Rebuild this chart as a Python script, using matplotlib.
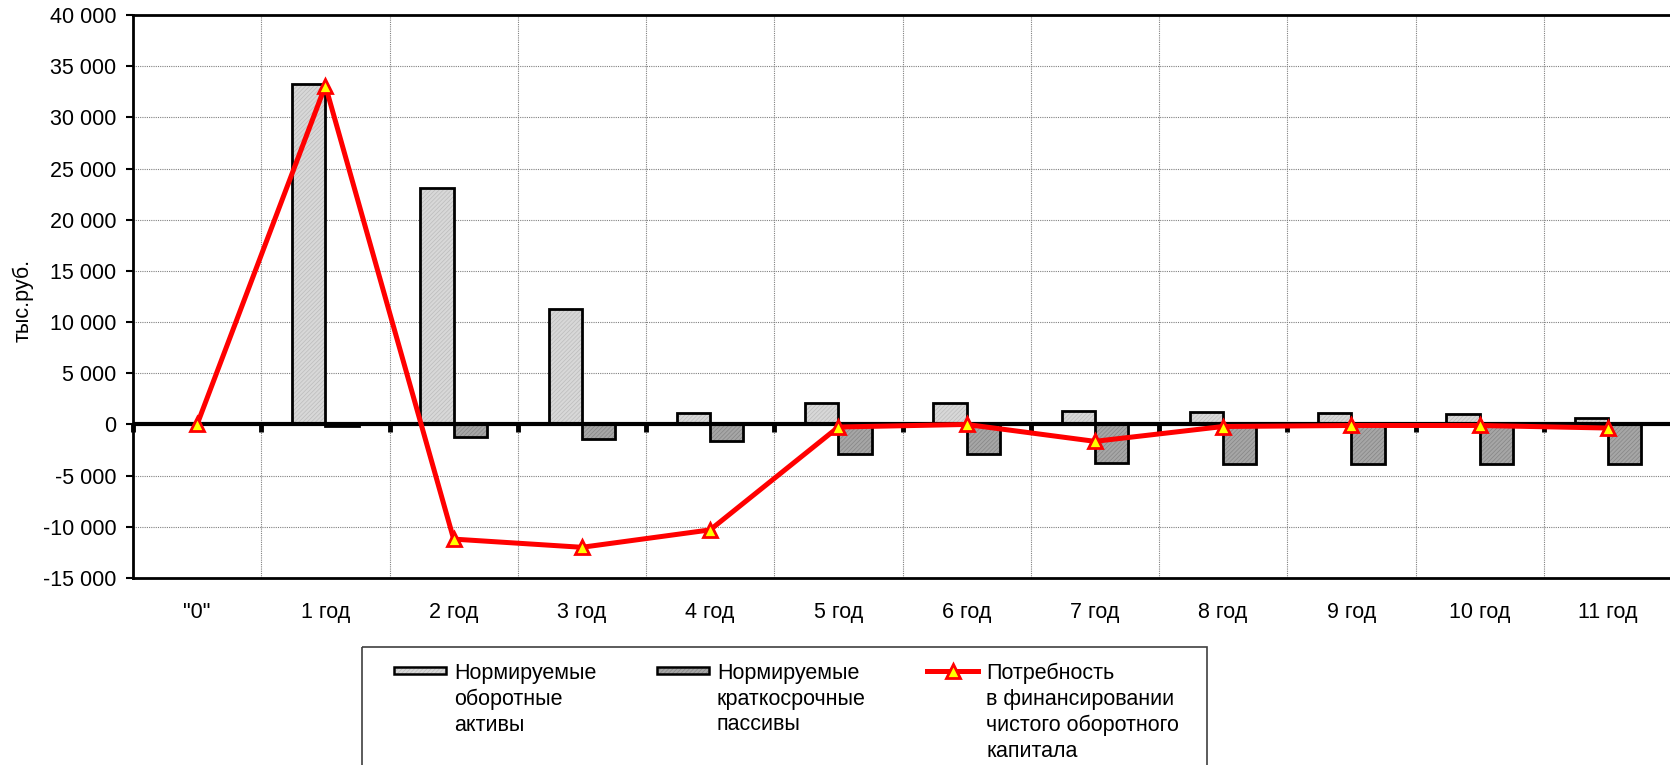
import matplotlib
matplotlib.use("Agg")
import matplotlib.pyplot as plt
import matplotlib.markers as mmarkers
from matplotlib.patches import Rectangle
from matplotlib.lines import Line2D
import numpy as np

plt.rcParams['font.family'] = ['Liberation Sans', 'DejaVu Sans']
plt.rcParams['hatch.linewidth'] = 0.5

# Data (тыс. руб.)
periods = ['"0"', '1 год', '2 год', '3 год', '4 год', '5 год', '6 год',
           '7 год', '8 год', '9 год', '10 год', '11 год']
current_assets = [0, 33300, 23100, 11300, 1150, 2100, 2100, 1350, 1250, 1150, 1050, 600]
current_liabilities = [0, -150, -1200, -1400, -1650, -2900, -2900, -3800, -3900, -3900, -3900, -3850]
financing_need = [0, 33100, -11200, -12000, -10300, -250, 0, -1650, -200, -100, -100, -350]
y_ticks = list(range(-15000, 40001, 5000))

legend_labels = ['Нормируемые\nоборотные\nактивы',
                 'Нормируемые\nкраткосрочные\nпассивы',
                 'Потребность\nв финансировании\nчистого оборотного\nкапитала']

W, H = 1670, 765
FS = 15.5
fig = plt.figure(figsize=(W / 100, H / 100), dpi=100)
left, right, top, bottom = 133, 1672, 15, 578
ax = fig.add_axes([left / W, (H - bottom) / H, (right - left) / W, (bottom - top) / H])

x = np.arange(len(periods))
bw = 0.26
light_fc, light_hc = '#d8d8d8', '#bcbcbc'
dark_fc, dark_hc = '#a6a6a6', '#858585'
HATCH = '////////'

# hatched fills, then outlines
ax.bar(x - bw / 2, current_assets, bw, color=light_fc, edgecolor=light_hc,
       hatch=HATCH, linewidth=0, zorder=2)
ax.bar(x + bw / 2, current_liabilities, bw, color=dark_fc, edgecolor=dark_hc,
       hatch=HATCH, linewidth=0, zorder=2)
ax.bar(x - bw / 2, current_assets, bw, fill=False, edgecolor='black', linewidth=2, zorder=3)
ax.bar(x + bw / 2, current_liabilities, bw, fill=False, edgecolor='black', linewidth=2, zorder=3)

# category axis at zero with tick marks between categories
bounds = np.arange(0.5, len(periods) - 0.5, 1.0)
ax.axhline(0, color='black', linewidth=3, zorder=4)
ax.plot(np.r_[-0.5, bounds], np.zeros(len(bounds) + 1), linestyle='none',
        marker=mmarkers.TICKDOWN, markersize=6, markeredgewidth=3.5,
        color='black', zorder=4, clip_on=False)

ax.plot(x, financing_need, color='#ff0000', linewidth=3.6, marker='^',
        markersize=10, markerfacecolor='#ffff00', markeredgecolor='#ff0000',
        markeredgewidth=2, zorder=5, clip_on=False)

ax.set_xlim(-0.5, len(periods) - 0.5)
ax.set_ylim(-15000, 40000)
ax.set_yticks(y_ticks)
ax.set_yticklabels([f"{v:,}".replace(",", " ") for v in y_ticks])
ax.set_xticks(x)
ax.set_xticklabels(periods)
ax.set_xticks(bounds, minor=True)

ax.grid(axis='y', which='major', color='#808080', linestyle=(0, (1, 1)), linewidth=0.8, zorder=0)
ax.grid(axis='x', which='minor', color='#808080', linestyle=(0, (1, 1)), linewidth=0.8, zorder=0)
ax.set_axisbelow(True)

ax.tick_params(axis='x', which='both', length=0, pad=17, labelsize=FS)
ax.tick_params(axis='y', length=5, width=1.5, direction='out', pad=7, labelsize=FS)

for side in ('left', 'top', 'bottom'):
    ax.spines[side].set_linewidth(2)
    ax.spines[side].set_color('black')
ax.spines['right'].set_visible(False)

fig.text(23 / W, 1 - 300 / H, 'тыс.руб.', rotation=90, ha='center', va='center', fontsize=FS)

# legend panel
ov = fig.add_axes([0, 0, 1, 1], zorder=10)
ov.set_xlim(0, W)
ov.set_ylim(H, 0)
ov.axis('off')
ov.patch.set_alpha(0)
ov.add_patch(Rectangle((362, 647), 845, 200, fill=False, edgecolor='#404040', linewidth=1.2))

patch_y = 667
for px, fc, hc in ((394, light_fc, light_hc), (657, dark_fc, dark_hc)):
    ov.add_patch(Rectangle((px, patch_y), 52, 7, facecolor=fc, edgecolor=hc,
                           hatch=HATCH, linewidth=0))
    ov.add_patch(Rectangle((px, patch_y), 52, 7, fill=False, edgecolor='black', linewidth=1.8))
ov.add_line(Line2D([927, 978], [670.5, 670.5], color='#ff0000', linewidth=3.6))
ov.plot([952.5], [670.5], marker='^', markersize=10, markerfacecolor='#ffff00',
        markeredgecolor='#ff0000', markeredgewidth=2)

for tx, lab in zip((454, 717, 986), legend_labels):
    ov.text(tx, 663, lab, ha='left', va='top', fontsize=FS, linespacing=1.29)

fig.savefig('out.png', dpi=100)
